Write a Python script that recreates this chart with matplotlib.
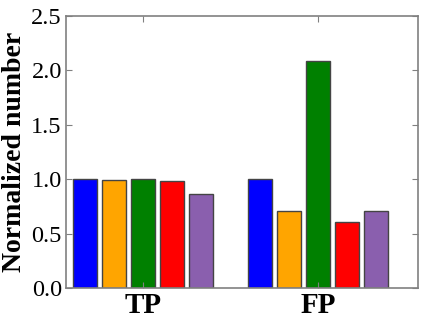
import numpy as np
import matplotlib
matplotlib.use("Agg")
import matplotlib.pyplot as plt

groups = ["TP", "FP"]
colors = ["#0000ff", "#ffa500", "#008000", "#ff0000", "#8a5fae"]
values = [
    [1.00, 0.99, 1.002, 0.983, 0.861],   # TP
    [1.00, 0.71, 2.083, 0.604, 0.708],   # FP
]

plt.rcParams['font.family'] = ['Liberation Serif', 'DejaVu Serif']

fig = plt.figure(figsize=(4.23, 3.21), dpi=100)
ax = fig.add_axes([66 / 423, 1 - 288 / 321, 352 / 423, 272 / 321])

group_pos = np.array([0, 6])
for i, c in enumerate(colors):
    ax.bar(group_pos + (i - 2), [v[i] for v in values], width=0.82,
           color=c, edgecolor="#444444", linewidth=1.0)

ax.set_xlim(-2.64, 9.43)
ax.set_ylim(0, 2.5)
ax.set_yticks([0.0, 0.5, 1.0, 1.5, 2.0, 2.5])
ax.set_yticklabels(["0.0", "0.5", "1.0", "1.5", "2.0", "2.5"], fontsize=17.5)
ax.set_xticks(group_pos)
ax.set_xticklabels(groups, fontsize=21, fontweight="bold")
ax.set_ylabel("Normalized number", fontsize=20, fontweight="bold", labelpad=3)
ax.tick_params(direction="in", top=True, right=True, length=4, color="#808080", pad=3)
for s in ax.spines.values():
    s.set_color("#808080")
    s.set_linewidth(1.2)

fig.savefig("out.png", dpi=100)
